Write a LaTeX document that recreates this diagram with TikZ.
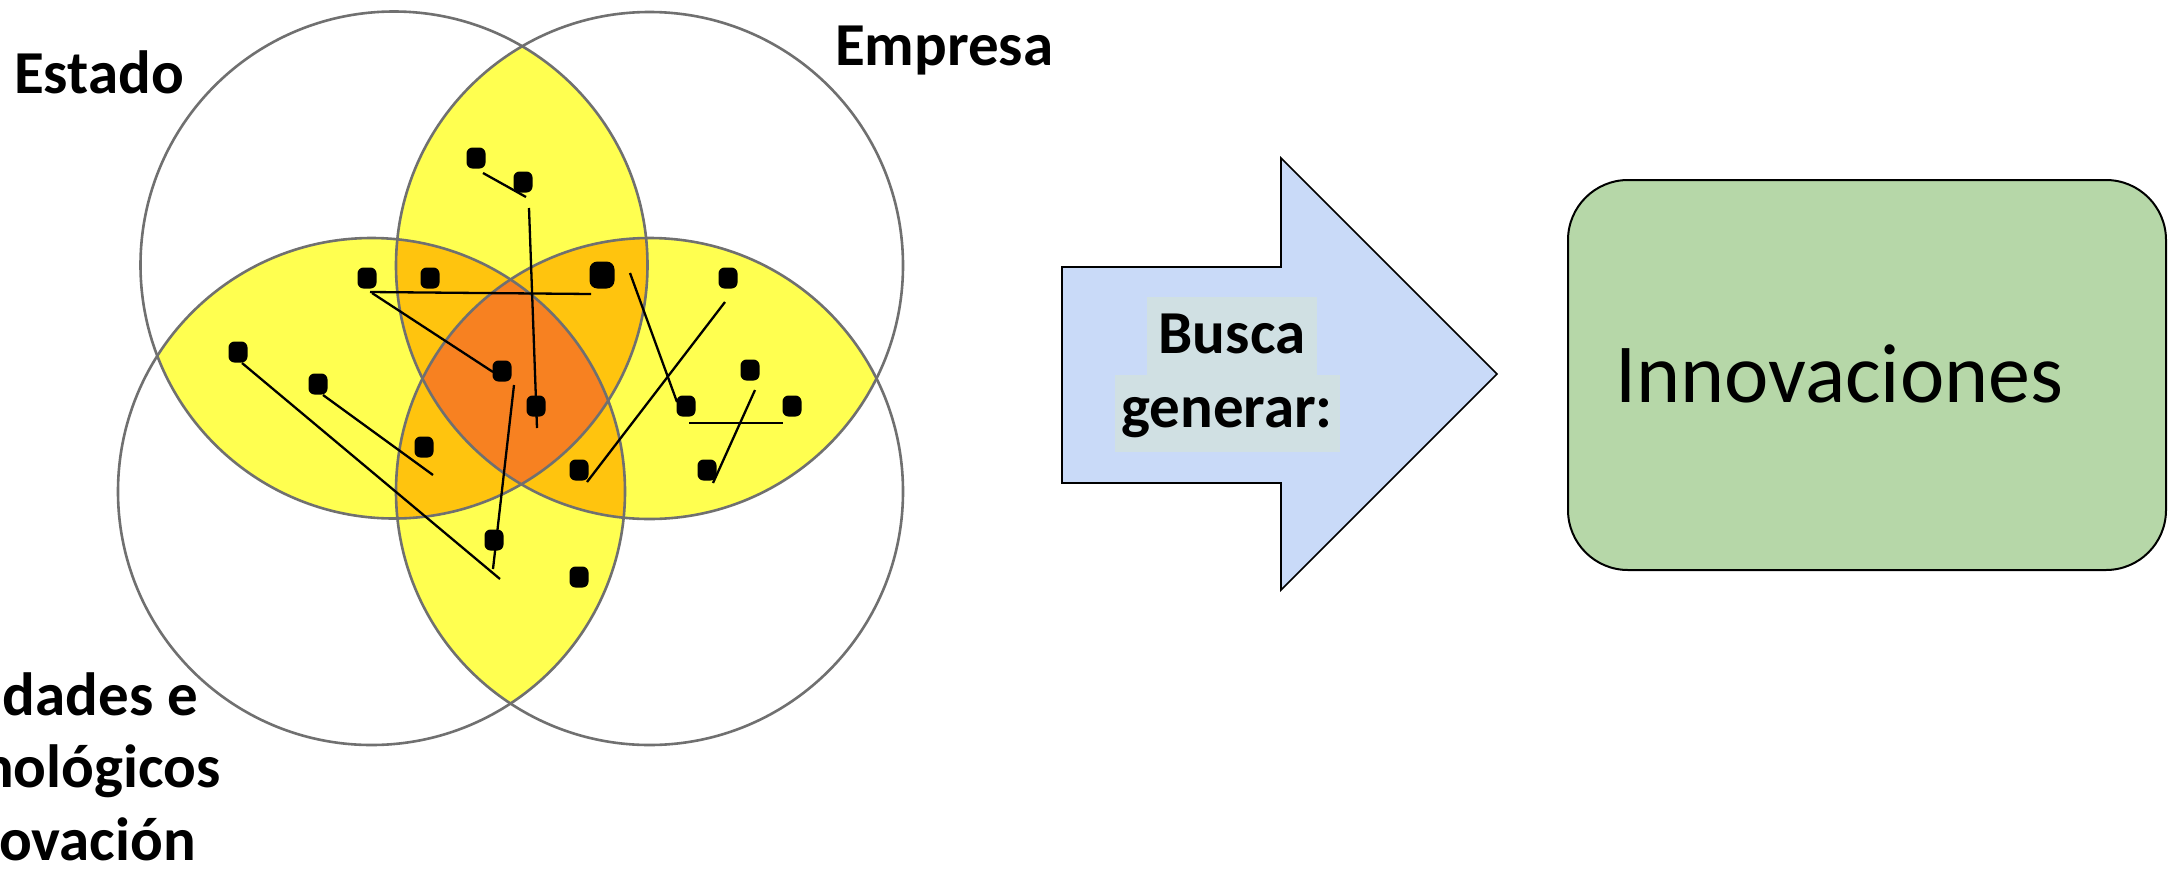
\documentclass[tikz,border=0pt]{standalone}
\usepackage{fontspec}
\setmainfont{Carlito}
\definecolor{petal}{RGB}{255,255,80}
\definecolor{amber}{RGB}{255,196,14}
\definecolor{core}{RGB}{247,129,33}
\definecolor{ringgray}{RGB}{112,112,112}
\definecolor{arrowblue}{RGB}{201,218,248}
\definecolor{hl}{RGB}{208,224,227}
\definecolor{boxgreen}{RGB}{182,215,168}
\def\vennR{253.5}
\tikzset{
  lbl/.style={font=\fontsize{61}{73}\selectfont\bfseries, inner sep=0pt},
  venndot/.style={fill=black, rectangle, rounded corners=6pt, minimum width=19pt, minimum height=21pt, inner sep=0pt},
  bigvenndot/.style={venndot, minimum width=25pt, minimum height=27pt, rounded corners=8pt},
  joinline/.style={line width=2.3pt, draw=black},
  ringline/.style={draw=ringgray, line width=2.6pt},
}
\begin{document}
\begin{tikzpicture}[x=1pt,y=-1pt]
\useasboundingbox (0,0) rectangle (2177,879);
\fill[white] (0,0) rectangle (2177,879);

% circle centres
\coordinate (cTL) at (394,265);
\coordinate (cTR) at (649.5,265.5);
\coordinate (cBL) at (371.5,491.5);
\coordinate (cBR) at (649.5,491.5);

% two-circle overlaps
\foreach \a/\b in {TL/TR,TL/BL,TR/BR,BL/BR,TL/BR,TR/BL}{
  \begin{scope}
    \clip (c\a) circle[radius=\vennR];
    \fill[petal] (c\b) circle[radius=\vennR];
  \end{scope}
}
% three-circle overlaps
\foreach \a/\b/\c in {TL/TR/BL,TL/TR/BR,TL/BL/BR,TR/BL/BR}{
  \begin{scope}
    \clip (c\a) circle[radius=\vennR];
    \clip (c\b) circle[radius=\vennR];
    \fill[amber] (c\c) circle[radius=\vennR];
  \end{scope}
}
% four-circle overlap
\begin{scope}
  \clip (cTL) circle[radius=\vennR];
  \clip (cTR) circle[radius=\vennR];
  \clip (cBL) circle[radius=\vennR];
  \fill[core] (cBR) circle[radius=\vennR];
\end{scope}
% outlines
\foreach \c in {TL,TR,BL,BR}{
  \draw[ringline] (c\c) circle[radius=\vennR];
}

% line end points
\coordinate (l1a) at (483,173);  \coordinate (l1b) at (526,197);
\coordinate (l2a) at (529,208);  \coordinate (l2b) at (537,428);
\coordinate (l3a) at (370,292);  \coordinate (l3b) at (591,294);
\coordinate (l4a) at (372,293);  \coordinate (l4b) at (493,372);
\coordinate (l5a) at (242,363);  \coordinate (l5b) at (500,579);
\coordinate (l6a) at (323,395);  \coordinate (l6b) at (433,475);
\coordinate (l7a) at (514,385);  \coordinate (l7b) at (493,569);
\coordinate (l8a) at (630,273);  \coordinate (l8b) at (677,402);
\coordinate (l9a) at (725,302);  \coordinate (l9b) at (587,482);
\coordinate (l10a) at (689,423); \coordinate (l10b) at (783,423);
\coordinate (l11a) at (755,390); \coordinate (l11b) at (713,483);

\draw[joinline] (l1a) -- (l1b);
\draw[joinline] (l2a) -- (l2b);
\draw[joinline] (l3a) -- (l3b);
\draw[joinline] (l4a) -- (l4b);
\draw[joinline] (l5a) -- (l5b);
\draw[joinline] (l6a) -- (l6b);
\draw[joinline] (l7a) -- (l7b);
\draw[joinline] (l8a) -- (l8b);
\draw[joinline] (l9a) -- (l9b);
\draw[joinline] (l10a) -- (l10b);
\draw[joinline] (l11a) -- (l11b);

% dots
\node[venndot] (d1) at (476,158) {};
\node[venndot] (d2) at (523,182) {};
\node[venndot] (d3) at (367,278) {};
\node[venndot] (d4) at (430,278) {};
\node[bigvenndot] (d5) at (602,275) {};
\node[venndot] (d6) at (728,278) {};
\node[venndot] (d7) at (238,352) {};
\node[venndot] (d8) at (318,384) {};
\node[venndot] (d9) at (502,371) {};
\node[venndot] (d10) at (536,406) {};
\node[venndot] (d11) at (750,370) {};
\node[venndot] (d12) at (686,406) {};
\node[venndot] (d13) at (792,406) {};
\node[venndot] (d14) at (424,447) {};
\node[venndot] (d15) at (579,470) {};
\node[venndot] (d16) at (707,470) {};
\node[venndot] (d17) at (494,540) {};
\node[venndot] (d18) at (579,577) {};

% labels
\node[lbl, anchor=base west] (estado) at (14,93) {Estado};
\node[lbl, anchor=base west] (empresa) at (835,65) {Empresa};
\node[lbl, anchor=base east] (univA) at (198,715) {dades e};
\node[lbl, anchor=base east] (univB) at (221,787) {nológicos};
\node[lbl, anchor=base east] (univC) at (196,860) {ovación};

% block arrow
\draw[fill=arrowblue, line width=1.6pt, line join=miter]
  (1062,267) -- (1281,267) -- (1281,158) -- (1497,374) -- (1281,590) -- (1281,483) -- (1062,483) -- cycle;
\node[lbl, fill=hl, anchor=base, minimum width=225pt, text height=52pt, text depth=25pt] (generar) at (1227,427) {generar:};
\node[lbl, fill=hl, anchor=base, minimum width=170pt, text height=56pt, text depth=22pt] (busca) at (1232,353) {Busca};

% result box
\node[draw=black, line width=2pt, fill=boxgreen, rounded corners=60pt, minimum width=598pt, minimum height=390pt, inner sep=0pt] (innovbox) at (1867,375) {};
\node[font=\fontsize{84}{100}\selectfont, anchor=base west, inner sep=0pt] (innov) at (1615,402) {Innovaciones};
\end{tikzpicture}
\end{document}
